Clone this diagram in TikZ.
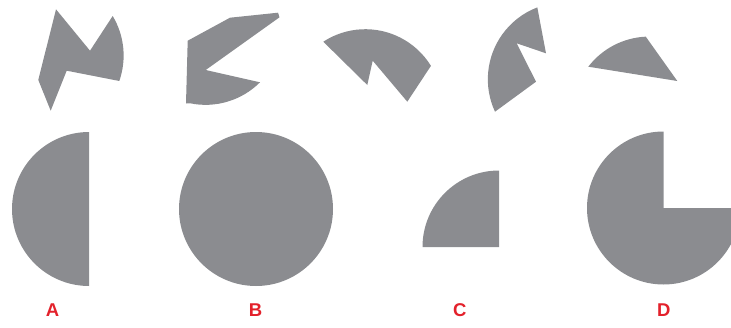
\documentclass[tikz,border=0pt]{standalone}
\usepackage{fontspec}
\setmainfont{Liberation Sans}
\definecolor{piece}{RGB}{139,140,144}
\definecolor{lblred}{RGB}{227,33,43}
\begin{document}
\begin{tikzpicture}[x=1pt,y=1pt,
  pc/.style={fill=piece,draw=none},
  lbl/.style={text=lblred,font=\fontsize{18.5}{18.5}\selectfont\bfseries,inner sep=0pt,anchor=base}]
\useasboundingbox (0,0) rectangle (731,-327);
\clip (0,0) rectangle (731,-327);
% top pieces
\fill[pc] (56,-9.3) -- (90,-50.7) -- (112.7,-16) arc[start angle=30.9,end angle=-19.3,radius=77]
  -- (66.7,-70.7) -- (50.7,-110.7) -- (38.3,-80) -- cycle;
\fill[pc] (187.7,-40.7) -- (230,-17.7) -- (278,-12.7) -- (279.5,-17.3) -- (205.7,-70) -- (260,-82.3)
  arc[start angle=-45,end angle=-101.6,radius=77] -- (186,-103.5) -- cycle;
\fill[pc] (323.3,-41.7) arc[start angle=123.1,end angle=31.6,radius=77]
  -- (407.3,-101.7) -- (372.7,-60.7) -- (367.3,-85) -- cycle;
\fill[pc] (537.3,-7.3) -- (546,-53.3) -- (516.7,-43.3) -- (536,-81.7) -- (495,-111.7)
  arc[start angle=204.9,end angle=111,radius=77] -- cycle;
\fill[pc] (588.3,-66.7) arc[start angle=142.5,end angle=92.7,radius=77] -- (677.3,-81) -- cycle;
% answer shapes
\fill[pc] (89,-132) arc[start angle=90,end angle=270,radius=77] -- cycle;
\fill[pc] (256,-209) circle[radius=77];
\fill[pc] (499,-247) -- (499,-170.5) arc[start angle=90,end angle=180,radius=76.5] -- cycle;
\fill[pc] (663.5,-208) -- (663.5,-131.5) arc[start angle=90,end angle=360,radius=76.5] -- cycle;
% labels
\node[lbl] (la) at (52.6,-316.3) {A};
\node[lbl] (lb) at (255.5,-316.3) {B};
\node[lbl] (lc) at (459.7,-316.3) {C};
\node[lbl] (ld) at (663.8,-316.3) {D};
\end{tikzpicture}
\end{document}
